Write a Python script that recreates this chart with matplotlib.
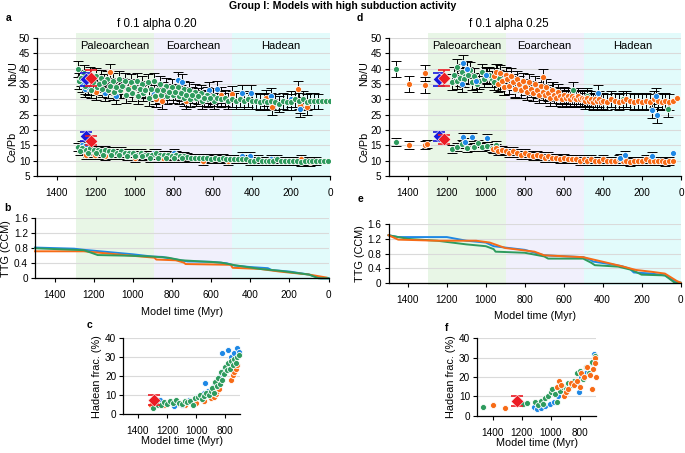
import matplotlib
matplotlib.use('Agg')
import matplotlib.pyplot as plt
import numpy as np

plt.rcParams['font.family'] = ['Liberation Sans', 'DejaVu Sans']

# ---------------- data ----------------
ERA_NAMES = ['Paleoarchean', 'Eoarchean', 'Hadean']
ERA_START = [1300, 900, 500]
ERA_END = [900, 500, 0]

NBU_ERR = 2.6
CEPB_ERR = 1.3
NO_ERR_BELOW = 60

# Panel a (alpha 0.20)
A_NBU_G_T = [1290, 1260, 1230, 1200, 1170, 1140, 1110, 1080, 1050, 1020, 990, 960, 930, 900, 870, 840, 810, 780, 750, 720, 690, 660, 630, 600,
             1285, 1255, 1225, 1195, 1165, 1135, 1105, 1075, 1045, 1015, 985, 955, 925, 895, 865, 835, 805, 775, 745, 715, 685, 655, 625, 595,
             1275, 1245, 1215, 1185, 1155, 1125, 1095, 1065, 1035, 1005, 975, 945, 915, 885, 855, 825, 795, 765, 735, 705, 675, 645, 615,
             580, 560, 540, 520, 500, 480, 460, 440, 420, 400, 380, 360, 340, 320, 300, 280, 260, 240, 220, 200, 180, 160, 140, 120, 100, 80, 60, 40, 20, 0]
A_NBU_G_V = [40, 38.5, 38, 37.5, 37, 36.5, 36, 36.5, 36, 35.5, 36, 35, 35.5, 36, 35, 34.5, 34, 34, 33.5, 33, 32.5, 32, 31.5, 31,
             36, 34.5, 33, 34, 33.5, 33, 32.5, 33, 31.5, 32, 31, 32, 30.5, 31, 31.5, 31, 31.5, 31, 30.5, 30, 30.5, 29.5, 30, 29.5,
             37, 36, 35.5, 35, 35.5, 34.5, 34, 34.5, 33.5, 34, 33.5, 33, 33.5, 33, 33, 32.5, 32.5, 32, 31.5, 31.5, 31, 30.5, 30.5,
             30.5, 30, 30.5, 29.5, 30, 29.5, 30, 29.5, 30, 29.5, 29.5, 29, 29.5, 29, 29.5, 29, 28.5, 29.5, 29, 29, 30, 29.5, 30, 29, 29.5, 29.5, 29.3, 29.3, 29.3, 29.3]
A_NBU_O_T = [1200, 1128, 1111, 1068, 1020, 889, 860, 735, 560, 504, 330, 299, 163, 154, 120]
A_NBU_O_V = [32.3, 38.9, 32.3, 32.9, 34, 30.2, 29.5, 29.4, 31.5, 31.8, 30.5, 27.6, 33.5, 28, 27.4]
A_NBU_B_T = [1270, 1256, 1240, 1150, 1094, 900, 778, 760, 620, 581, 450, 402, 300, 200, 154]
A_NBU_B_V = [35, 33.5, 34, 32, 31.2, 32, 36.4, 35.5, 33, 33.5, 32, 32, 31, 30, 26.9]

A_CEPB_G_T = [1290, 1270, 1250, 1230, 1210, 1190, 1170, 1150, 1130, 1110, 1090, 1070, 1050, 1030, 1010, 990, 970, 950, 930, 910,
              890, 870, 850, 830, 810, 790, 770, 750, 730, 710, 690, 670, 650, 630, 610, 590, 570, 550, 530, 510, 490, 470, 450,
              430, 410, 390, 370, 350, 330, 310, 290, 270, 250, 230, 210, 190, 170, 150, 130, 110, 90, 70, 50, 30, 10,
              1280, 1240, 1200, 1160, 1120, 1080, 1040, 1000, 960, 920, 880, 840, 800, 760]
A_CEPB_G_V = [14.5, 14, 13.5, 14, 13.5, 13.5, 13, 13.5, 13, 13, 12.5, 13, 12.5, 12.5, 12.5, 12, 12.5, 12, 12, 12,
              12.5, 12, 12, 11.8, 11.5, 11.8, 11.5, 11.5, 11.3, 11, 11, 11, 11, 11, 10.5, 11, 10.5, 11, 10.5, 10.5, 10.5, 10.5, 10.5,
              10.5, 10, 10, 10.5, 10, 10, 10, 10, 10.5, 10, 10, 10, 10, 10, 9.7, 10, 10, 10, 10, 10, 10, 10,
              13, 12.5, 12.5, 12, 12, 12, 11.5, 11.5, 11.5, 11, 11, 11, 11, 11]
A_CEPB_O_T = [1250, 1205, 1150, 1000, 855, 650, 520, 150, 100]
A_CEPB_O_V = [12, 12, 11.5, 11, 11, 10, 10, 10.5, 9.5]
A_CEPB_B_T = [1270, 1256, 1200, 900, 800, 450, 410, 300, 250]
A_CEPB_B_V = [15, 14.8, 13, 12.5, 12.5, 11.5, 11.5, 10.5, 10]

# reference diamonds (natural samples)
REF_RED_T = [1225, 1225]
REF_RED_V = [37, 16.5]
REF_RED_E = [2.5, 1.5]
REF_BLUE_T = [1250, 1250]
REF_BLUE_V = [36.5, 18]
REF_BLUE_E = [2.2, 1.5]

REF_RED_T_D = [1214, 1214]
REF_RED_V_D = [37, 17]
REF_BLUE_T_D = [1240, 1240]
REF_BLUE_V_D = [36.5, 18]

# Panel d (alpha 0.25)
D_NBU_G_T = [1462, 1176, 1150, 1150, 1124, 1107, 1082, 1073, 1047, 1022, 996, 971, 945, 928, 1165, 1135, 1115, 1090, 1060, 1035,
             1010, 985, 960, 935, 910, 880, 850, 656, 553, 480, 300, 67]
D_NBU_G_V = [39.8, 35.5, 40.6, 36, 39, 37.5, 39.5, 35.7, 35, 39, 37.5, 36.5, 39, 35.2, 38, 37, 36.5, 38, 37.5, 36,
             36.5, 38, 35.5, 37, 34, 34.5, 33, 32.9, 33, 31, 30, 27]
D_NBU_O_T = [1395, 1313, 1313,
             960, 950, 940, 930, 920, 910, 900, 890, 880, 870, 860, 850, 840, 830, 820, 810, 800, 790, 780, 770, 760, 750,
             740, 730, 720, 710, 706, 700, 690, 680, 670, 660, 650, 640, 630, 620, 610, 600, 590, 580, 570, 560, 550, 540,
             530, 520, 510, 500, 490, 480, 470, 460, 450, 440, 430, 420, 410, 400, 380, 360, 340, 320, 300, 280, 260, 240,
             220, 200, 180, 160, 140, 120, 100, 80, 60, 40, 20]
D_NBU_O_V = [34.9, 38.6, 34.7,
             37.5, 39, 35, 38.5, 36, 34, 38, 36.5, 34.5, 37.5, 35.5, 33.5, 36.5, 35, 33, 36, 34, 32.5, 35.5, 33.5, 32, 35,
             33, 31.5, 34.5, 32.5, 37.3, 31.5, 34, 32, 30.5, 33, 31.5, 30.5, 32.5, 31, 30, 31.5, 30.5, 31, 30, 31, 30.5, 30,
             31, 30, 30.5, 30, 29.5, 30.5, 29.5, 30, 29, 30, 29.5, 30, 29, 29.5, 29, 30, 29.5, 29, 29.5, 30, 29.5, 29,
             29.5, 29, 29.5, 29, 30, 29.5, 29, 29.5, 29, 29.5, 30.5]
D_NBU_B_T = [1125, 1116, 1099, 1050, 1000, 424, 150, 128, 121]
D_NBU_B_V = [35, 41.7, 40, 36, 38, 32, 26.5, 31, 25]

D_CEPB_G_T = [1462, 1176, 1150, 1124, 1100, 1064, 1039, 1020, 996, 971, 950, 930, 700, 560]
D_CEPB_G_V = [16, 13.7, 14.5, 15.4, 14, 14.6, 15.6, 14.5, 14.9, 14, 15, 13.5, 11, 10.5]
D_CEPB_O_T = [1395, 1313, 1305,
              964, 950, 940, 920, 900, 880, 860, 840, 820, 800, 780, 760, 740, 720, 700, 680, 660, 640, 620, 600,
              580, 560, 540, 520, 500, 480, 460, 440, 420, 400, 380, 360, 340, 320, 300, 280, 260, 240, 220, 200,
              180, 160, 140, 120, 100, 80, 60, 40]
D_CEPB_O_V = [15, 15, 15.3,
              13.7, 14, 13, 13.5, 13, 12.5, 13, 12.5, 12, 12.5, 12, 11.5, 12, 11.5, 11, 11.5, 11, 11, 10.5, 11,
              10.5, 10.5, 10.5, 10, 10.5, 10, 10.5, 10, 10, 10.5, 10, 10, 10, 10.5, 10, 10, 9.5, 10, 10, 10,
              10.5, 10, 10, 10, 10, 9.5, 10, 10]
D_CEPB_B_T = [1116, 1107, 1073, 996, 313, 287, 150, 40]
D_CEPB_B_V = [17.7, 16, 17.7, 17.5, 11, 11.8, 11.5, 12.6]

# Panel b: TTG (CCM)
B_BLUE_T = [1500, 1300, 1250, 1000, 900, 850, 780, 720, 600, 520, 480, 400, 310, 290, 200, 100, 40, 0]
B_BLUE_V = [0.82, 0.79, 0.76, 0.64, 0.58, 0.57, 0.50, 0.45, 0.44, 0.40, 0.34, 0.30, 0.27, 0.22, 0.18, 0.10, 0.0, 0.0]
B_ORANGE_T = [1500, 1250, 1000, 890, 880, 780, 740, 730, 500, 490, 350, 250, 100, 10]
B_ORANGE_V = [0.72, 0.72, 0.60, 0.55, 0.50, 0.48, 0.42, 0.38, 0.36, 0.28, 0.25, 0.18, 0.10, 0.02]
B_GREEN_T = [1500, 1250, 1190, 1180, 1000, 900, 820, 750, 550, 480, 350, 250, 100, 50, 0]
B_GREEN_V = [0.80, 0.75, 0.64, 0.62, 0.60, 0.58, 0.55, 0.48, 0.42, 0.35, 0.25, 0.20, 0.10, 0.0, 0.0]

# Panel e: TTG (CCM)
E_BLUE_T = [1500, 1450, 1200, 1100, 1000, 960, 800, 700, 500, 460, 450, 350, 300, 260, 240, 150, 80, 20, 0]
E_BLUE_V = [1.30, 1.25, 1.25, 1.15, 1.10, 1.00, 0.90, 0.75, 0.70, 0.62, 0.58, 0.50, 0.45, 0.38, 0.28, 0.25, 0.20, 0.02, 0.0]
E_ORANGE_T = [1500, 1450, 1250, 1050, 980, 900, 750, 700, 500, 420, 300, 230, 150, 80, 20, 0]
E_ORANGE_V = [1.30, 1.18, 1.15, 1.15, 1.10, 0.95, 0.85, 0.75, 0.70, 0.60, 0.45, 0.35, 0.30, 0.25, 0.05, 0.0]
E_GREEN_T = [1500, 1400, 1250, 1100, 1000, 960, 950, 800, 700, 680, 500, 460, 440, 320, 250, 200, 80, 30, 0]
E_GREEN_V = [1.30, 1.20, 1.15, 1.05, 1.00, 0.92, 0.85, 0.82, 0.72, 0.66, 0.66, 0.55, 0.48, 0.44, 0.35, 0.22, 0.20, 0.0, 0.0]

# Panel c: Hadean fraction (alpha 0.20)
C_G_T = [1294, 1265, 1240, 1220, 1200, 1180, 1160, 1140, 1120, 1100, 1080, 1060, 1040, 1025, 1010, 990, 975, 960, 945, 930,
         915, 900, 890, 880, 870, 860, 850, 840, 830, 820, 810, 800, 790, 780, 770, 760, 750, 740, 730, 720, 710]
C_G_V = [3, 4.5, 5, 6.5, 5.5, 7, 6, 7.5, 6, 5.5, 7, 6.5, 7, 4.5, 8.5, 9, 10, 8, 9.5, 11,
         10, 12, 14, 11, 17, 15, 19, 16, 22, 18, 21, 25, 23, 27, 24, 28, 26, 29, 27, 30, 31]
C_B_T = [1275, 1250, 1150, 1100, 1050, 1000, 950, 940, 920, 880, 860, 840, 826, 810, 790, 779, 760, 740, 721, 710]
C_B_V = [6, 7.5, 4, 5, 7.5, 9, 11, 16.5, 12, 15, 18, 20, 32, 23, 26, 34, 30, 32, 35, 33]
C_O_T = [1310, 1240, 1220, 1150, 1120, 1080, 1000, 950, 900, 880, 865, 855, 845, 760, 750, 740, 730, 720]
C_O_V = [4.8, 4.5, 5, 4.5, 5.5, 5, 6, 7, 8.5, 9, 10.5, 12, 13, 18, 20.5, 22, 24, 26]
C_REF = (1290, 7.5, 2.5)

# Panel f: Hadean fraction (alpha 0.25)
F_G_T = [1468, 1193, 1165, 1110, 1090, 1070, 1055, 1040, 1020, 1000, 990, 970, 960, 940, 920, 900, 880, 860, 840, 820,
         800, 780, 760, 740, 720, 700]
F_G_V = [4.7, 6.3, 6.8, 7, 5.5, 7.5, 6, 9, 10, 12, 14, 11, 7, 13, 15, 14, 17, 16, 18, 22,
         23, 19, 25, 22, 28, 31]
F_B_T = [1120, 1100, 1070, 1040, 1010, 980, 950, 910, 880, 850, 820, 810, 790, 760, 720, 705]
F_B_V = [4.5, 3.5, 4, 5, 6, 7, 10, 12, 14, 16, 17, 12, 20, 22, 27, 32]
F_O_T = [1400, 1317, 960, 945, 930, 910, 900, 880, 860, 840, 820, 800, 790, 770, 750, 730, 720, 710, 700, 695, 690]
F_O_V = [5.5, 4, 15, 18, 16, 10, 12, 14, 17, 16, 18, 15, 22, 20, 25, 21, 14, 24, 30, 27, 20]
F_REF = (1232, 7.6, 2.5)

# ---------------- style ----------------
GREEN = '#2e9b5e'
ORANGE = '#f76b16'
BLUE = '#1e88e5'
RED = '#ec1c24'
DBLUE = '#1a1adc'
ERA_COLORS = ['#e8f6e6', '#f1f0fc', '#e2fbfb']
GRID = '#dadada'
TICK_FS = 7.2
LAB_FS = 7.8
DOT_S = 19

W, H = 685, 453
fig = plt.figure(figsize=(W / 100, H / 100), dpi=100)


def box(l, t, r, b):
    return [l / W, 1 - b / H, (r - l) / W, (b - t) / H]


def style_axes(ax, ylim, yticks, xlim=(1500, 0), xticks=(1400, 1200, 1000, 800, 600, 400, 200, 0)):
    ax.set_xlim(*xlim)
    ax.set_ylim(*ylim)
    ax.set_yticks(yticks)
    ax.set_xticks(xticks)
    ax.set_facecolor('none')
    for s in ('top', 'right'):
        ax.spines[s].set_visible(False)
    for s in ('left', 'bottom'):
        ax.spines[s].set_linewidth(0.9)
    ax.tick_params(labelsize=TICK_FS, length=3, width=0.8, pad=2)
    ax.tick_params(axis='x', pad=5.5)
    ax.yaxis.grid(True, color=GRID, lw=0.8)
    ax.set_axisbelow(True)


def background(rect):
    bg = fig.add_axes(rect, zorder=0)
    bg.set_xlim(1500, 0)
    bg.set_ylim(0, 1)
    bg.axis('off')
    for s, e, c in zip(ERA_START, ERA_END, ERA_COLORS):
        bg.axvspan(s, e, color=c, lw=0)
    return bg


def scatter_series(ax, t, v, color, err, z):
    t = np.asarray(t, float)
    v = np.asarray(v, float)
    m = t >= NO_ERR_BELOW
    ax.errorbar(t[m], v[m], yerr=err, fmt='none', ecolor='black', elinewidth=0.7,
                capsize=3.4, capthick=0.7, zorder=2)
    ax.scatter(t, v, s=DOT_S, c=color, edgecolors='white', linewidths=0.6, zorder=z)


def ref_marker(ax, t, v, e, color, z):
    ax.errorbar(t, v, yerr=e, fmt='none', ecolor=color, elinewidth=1.2,
                capsize=4.5, capthick=1.2, zorder=z)
    ax.scatter(t, v, s=42, marker='D', c=color, edgecolors='white', linewidths=0.4, zorder=z + 0.5)


def geochem_panel(rect, nbu, cepb, order, refs, subtitle, letter, letter_pos):
    ax = fig.add_axes(rect, zorder=1)
    style_axes(ax, (5, 50), np.arange(5, 51, 5))
    for (t, v, c), z in zip(nbu, order):
        scatter_series(ax, t, v, c, NBU_ERR, z)
    for (t, v, c), z in zip(cepb, order):
        scatter_series(ax, t, v, c, CEPB_ERR, z)
    (bt, bv, be), (rt, rv, re) = refs
    ref_marker(ax, bt, bv, be, DBLUE, 8)
    ref_marker(ax, rt, rv, re, RED, 9)
    for name, s, e in zip(ERA_NAMES, ERA_START, ERA_END):
        ax.text((s + e) / 2, 47.5, name, ha='center', va='center', fontsize=8, zorder=10)
    pos = ax.get_position()
    fig.text(pos.x0 - 24 / W, ax.transData.transform((0, 38.5))[1] / H, 'Nb/U', rotation=90,
             ha='center', va='center', fontsize=LAB_FS)
    fig.text(pos.x0 - 24 / W, ax.transData.transform((0, 14.5))[1] / H, 'Ce/Pb', rotation=90,
             ha='center', va='center', fontsize=LAB_FS)
    fig.text(pos.x0 + pos.width * 0.41, 1 - 24 / H, subtitle, ha='center', va='center', fontsize=8.3)
    fig.text(letter_pos[0] / W, 1 - letter_pos[1] / H, letter, fontweight='bold', fontsize=7.5,
             ha='left', va='center')
    return ax


def ttg_panel(rect, lines, letter, letter_pos, xlabelpad):
    ax = fig.add_axes(rect, zorder=1)
    style_axes(ax, (0, 1.6), [0, 0.4, 0.8, 1.2, 1.6])
    ax.set_yticklabels(['0', '0.4', '0.8', '1.2', '1.6'])
    for t, v, c in lines:
        ax.plot(t, v, color=c, lw=1.4, solid_joinstyle='round', clip_on=False)
    ax.set_ylabel('TTG (CCM)', fontsize=LAB_FS, labelpad=2)
    ax.set_xlabel('Model time (Myr)', fontsize=LAB_FS, labelpad=xlabelpad)
    fig.text(letter_pos[0] / W, 1 - letter_pos[1] / H, letter, fontweight='bold', fontsize=7.5,
             ha='left', va='center')
    return ax


def hadean_panel(rect, series, ref, xlim, letter, letter_pos):
    ax = fig.add_axes(rect, zorder=1)
    style_axes(ax, (0, 40), [0, 10, 20, 30, 40], xlim=xlim, xticks=(1400, 1200, 1000, 800))
    for t, v, c, z in series:
        ax.scatter(t, v, s=DOT_S, c=c, edgecolors='white', linewidths=0.6, zorder=z, clip_on=False)
    ref_marker(ax, [ref[0]], [ref[1]], [ref[2]], RED, 8)
    ax.set_ylabel('Hadean frac. (%)', fontsize=LAB_FS, labelpad=2)
    ax.set_xlabel('Model time (Myr)', fontsize=LAB_FS, labelpad=0)
    fig.text(letter_pos[0] / W, 1 - letter_pos[1] / H, letter, fontweight='bold', fontsize=7.5,
             ha='left', va='center')
    return ax


# backgrounds
background(box(37, 33, 330, 280))
background(box(388.5, 33, 681, 285))

# panel a
geochem_panel(box(37, 38, 330, 176),
              [(A_NBU_O_T, A_NBU_O_V, ORANGE), (A_NBU_B_T, A_NBU_B_V, BLUE), (A_NBU_G_T, A_NBU_G_V, GREEN)],
              [(A_CEPB_O_T, A_CEPB_O_V, ORANGE), (A_CEPB_B_T, A_CEPB_B_V, BLUE), (A_CEPB_G_T, A_CEPB_G_V, GREEN)],
              [3, 4, 5],
              ((REF_BLUE_T, REF_BLUE_V, REF_BLUE_E), (REF_RED_T, REF_RED_V, REF_RED_E)),
              'f 0.1 alpha 0.20', 'a', (6, 18))

# panel d
geochem_panel(box(388.5, 38, 681, 176),
              [(D_NBU_G_T, D_NBU_G_V, GREEN), (D_NBU_O_T, D_NBU_O_V, ORANGE), (D_NBU_B_T, D_NBU_B_V, BLUE)],
              [(D_CEPB_G_T, D_CEPB_G_V, GREEN), (D_CEPB_O_T, D_CEPB_O_V, ORANGE), (D_CEPB_B_T, D_CEPB_B_V, BLUE)],
              [3, 4, 5],
              ((REF_BLUE_T_D, REF_BLUE_V_D, REF_BLUE_E), (REF_RED_T_D, REF_RED_V_D, REF_RED_E)),
              'f 0.1 alpha 0.25', 'd', (357, 18))

# panel b, e
ttg_panel(box(35, 218.3, 328.5, 278.3),
          [(B_BLUE_T, B_BLUE_V, BLUE), (B_ORANGE_T, B_ORANGE_V, ORANGE), (B_GREEN_T, B_GREEN_V, GREEN)],
          'b', (4, 208), 5)
ttg_panel(box(388.5, 224.3, 680.5, 282.7),
          [(E_BLUE_T, E_BLUE_V, BLUE), (E_GREEN_T, E_GREEN_V, GREEN), (E_ORANGE_T, E_ORANGE_V, ORANGE)],
          'e', (358, 199), 5)

# panel c, f
hadean_panel(box(123.3, 338.3, 240, 414),
             [(C_O_T, C_O_V, ORANGE, 3), (C_B_T, C_B_V, BLUE, 4), (C_G_T, C_G_V, GREEN, 5)],
             C_REF, (1500, 700), 'c', (87, 325))
hadean_panel(box(477, 338.3, 596, 415.7),
             [(F_B_T, F_B_V, BLUE, 3), (F_G_T, F_G_V, GREEN, 4), (F_O_T, F_O_V, ORANGE, 5)],
             F_REF, (1510, 690), 'f', (445, 328))

fig.text(0.5, 1 - 6 / H, 'Group I: Models with high subduction activity', ha='center', va='center',
         fontsize=7.6, fontweight='bold')

fig.savefig('out.png', dpi=100)
